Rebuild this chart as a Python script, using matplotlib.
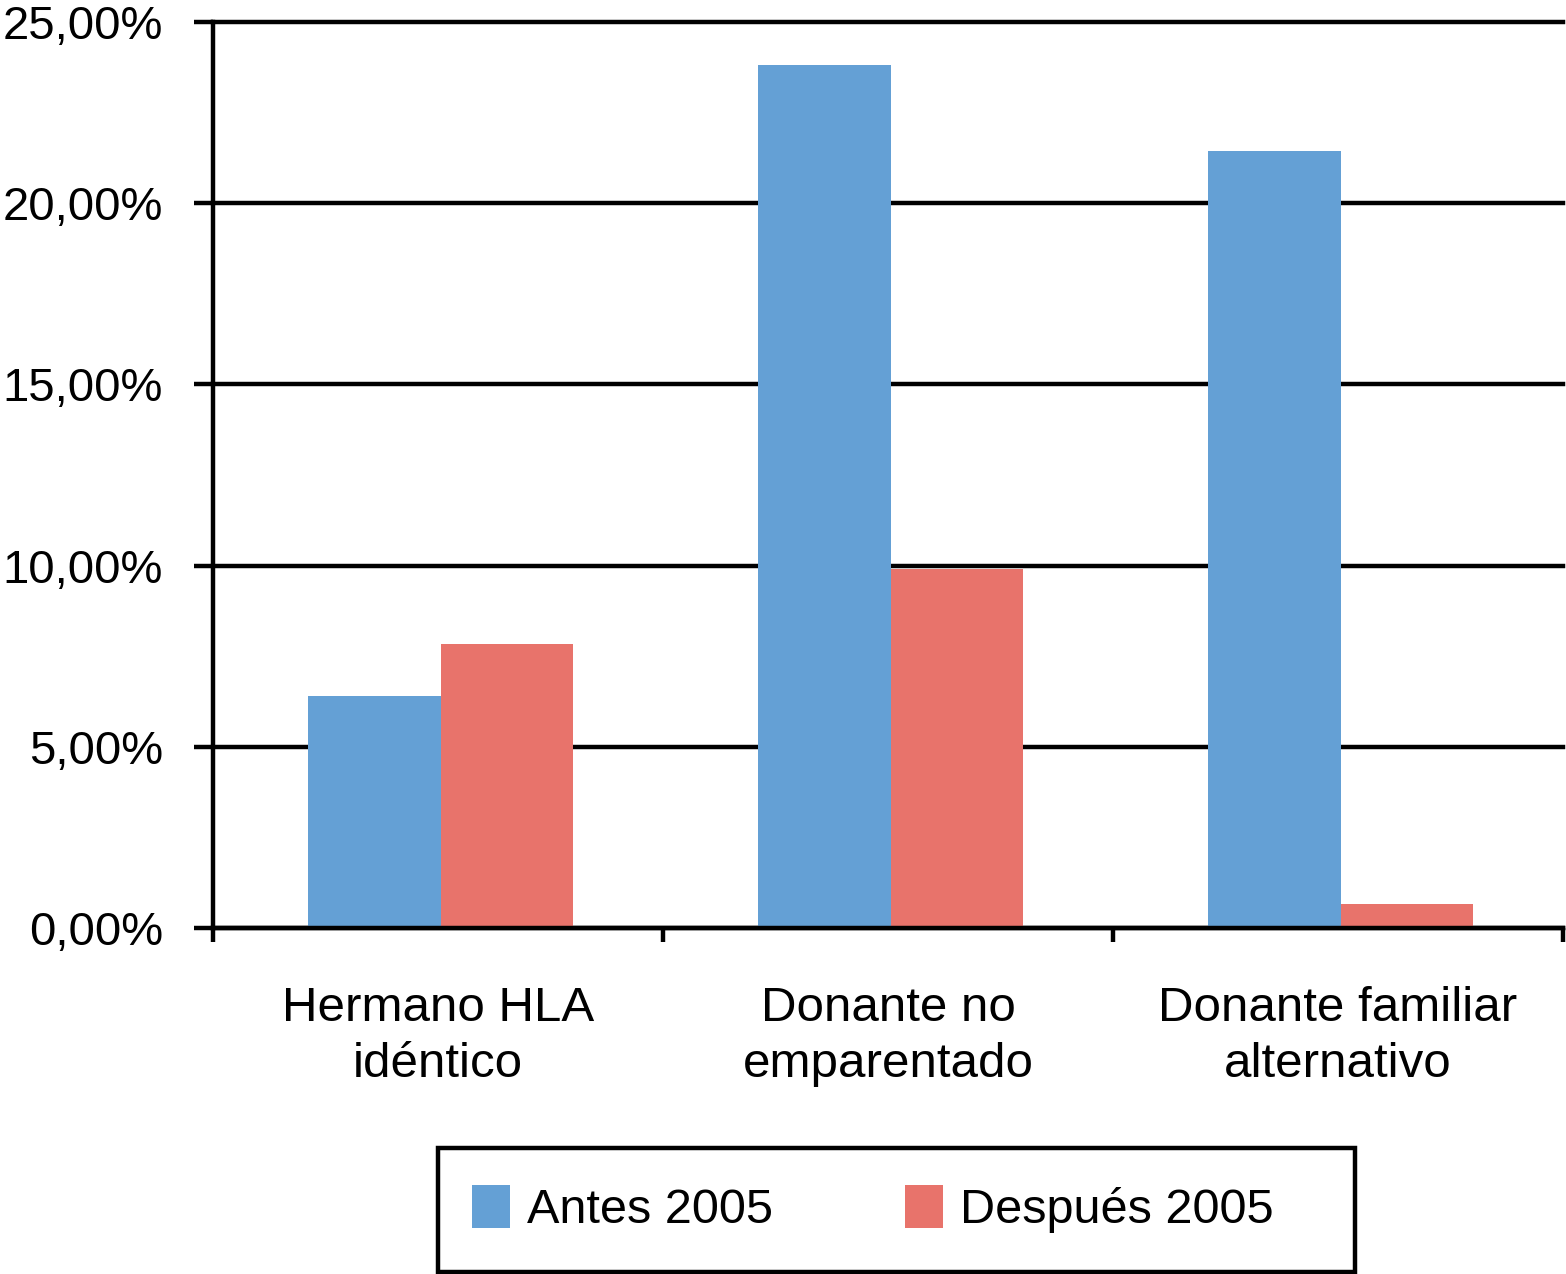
import matplotlib
matplotlib.use("Agg")
import matplotlib.pyplot as plt
from matplotlib.patches import Rectangle
import numpy as np

categories = ["Hermano HLA\nidéntico", "Donante no\nemparentado", "Donante familiar\nalternativo"]
antes_2005 = [6.4, 23.8, 21.45]
despues_2005 = [7.85, 9.9, 0.65]
series_labels = ["Antes 2005", "Después 2005"]
y_ticks = [0, 5, 10, 15, 20, 25]
y_tick_labels = ["0,00%", "5,00%", "10,00%", "15,00%", "20,00%", "25,00%"]

plt.rcParams['font.family'] = ['Liberation Sans', 'DejaVu Sans']
FS = 35.5
LW = 3.2
W, H = 1566, 1274
fig = plt.figure(figsize=(W / 100, H / 100), dpi=100)
ax = fig.add_axes([213 / W, 1 - 928 / H, (1563 - 213) / W, (928 - 22) / H])

x = np.arange(len(categories))
w = 0.295
off = 0.006
blue = "#64A0D5"
red = "#E8736B"
ax.bar(x - w / 2 + off, antes_2005, w, color=blue, label=series_labels[0], zorder=2)
ax.bar(x + w / 2 + off, despues_2005, w, color=red, label=series_labels[1], zorder=2)

ax.set_xlim(-0.5, len(categories) - 0.5)
ax.set_ylim(0, 25)
ax.set_yticks(y_ticks)
ax.set_yticklabels(y_tick_labels, fontsize=34)
ax.set_axisbelow(True)
ax.yaxis.grid(True, color="black", linewidth=LW)
for gl in ax.get_ygridlines():
    gl.set_clip_on(False)
ax.tick_params(axis="y", length=14, width=LW, pad=22, direction="out")

ax.set_xticks(np.arange(len(categories) + 1) - 0.5)
ax.set_xticklabels([])
ax.tick_params(axis="x", which="major", length=10, width=LW, direction="out")
ax.set_xticks(x, minor=True)
ax.set_xticklabels(categories, minor=True, fontsize=FS, linespacing=1.3)
ax.tick_params(axis="x", which="minor", length=0, pad=42)

for s in ["top", "right"]:
    ax.spines[s].set_visible(False)
for s in ["left", "bottom"]:
    ax.spines[s].set_linewidth(LW)
    ax.spines[s].set_color("black")

leg = fig.legend(loc="center left", bbox_to_anchor=(472 / W, 1 - 1209 / H),
                 ncol=2, frameon=False, fontsize=35, borderpad=0,
                 handlelength=0.78, handleheight=1.0, handletextpad=0.35,
                 columnspacing=2.72, borderaxespad=0)
fig.patches.append(Rectangle((438 / W, 1 - 1272 / H), (1355 - 438) / W, (1272 - 1148) / H,
                             transform=fig.transFigure, fill=False,
                             edgecolor="black", linewidth=LW))

fig.savefig("out.png", dpi=100)
